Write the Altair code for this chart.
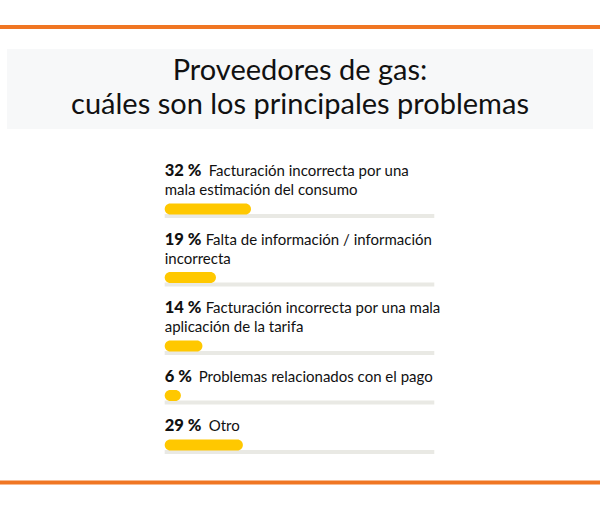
import altair as alt
import pandas as pd

# --- data -------------------------------------------------------------
pct = [32, 19, 14, 6, 29]
desc_lines = [
    ["Facturación incorrecta por una", "mala estimación del consumo"],
    ["Falta de información / información", "incorrecta"],
    ["Facturación incorrecta por una mala", "aplicación de la tarifa"],
    ["Problemas relacionados con el pago"],
    ["Otro"],
]
title_lines = ["Proveedores de gas:", "cuáles son los principales problemas"]

# --- style --------------------------------------------------------------
ORANGE = "#F07623"
YELLOW = "#FFC800"
TRACK = "#E9E9E4"
BG = "#F7F8F9"
TEXT = "#111111"
FONT = "Lato"

W, H = 600, 510
X0, X1 = 164.7, 434.3          # pixel span of the 0-100 % scale
PX_PER_PCT = (X1 - X0) / 100
FIRST_BASELINE = 176
LINE_GAP = 19
BAR_OFFSET = 14
TRACK_OFFSET = 7
ITEM_GAP = 28.5

# --- vertical layout built from the number of text lines per item -------
pct_rows, line_rows, bar_rows = [], [], []
y = FIRST_BASELINE
for p, lines in zip(pct, desc_lines):
    label = f"{p}\u00a0%"
    # rough width of the bold percent label, so the description follows it
    lab_w = 10 * len(str(p)) - 3 * str(p).count("1") + 17 + 7
    pct_rows.append({"label": label, "yb": y, "x": 0})
    for k, ln in enumerate(lines):
        shift = lab_w / PX_PER_PCT if k == 0 else 0
        line_rows.append({"text": ln, "yb": y + k * LINE_GAP, "x": shift})
    last = y + (len(lines) - 1) * LINE_GAP
    bar_c = last + BAR_OFFSET
    trk_c = bar_c + TRACK_OFFSET
    bar_rows.append({"pct": p, "zero": 0, "full": 100,
                     "b0": bar_c - 5.5, "b1": bar_c + 5.5,
                     "t0": trk_c - 2, "t1": trk_c + 2})
    y = trk_c + ITEM_GAP

pct_df = pd.DataFrame(pct_rows)
line_df = pd.DataFrame(line_rows)
bar_df = pd.DataFrame(bar_rows)
title_df = pd.DataFrame({"text": title_lines, "yb": [80, 114]})
frame_df = pd.DataFrame({"y0": [25, 480.5], "y1": [29, 484.5]})
band_df = pd.DataFrame({"y0": [49], "y1": [129]})

xscale = alt.Scale(domain=[0, 100], range=[X0, X1])
ypix = alt.Y("yb:Q", scale=None)

# decorations: orange rules and title band
frame = alt.Chart(frame_df).mark_rect(color=ORANGE).encode(
    x=alt.value(0), x2=alt.value(W),
    y=alt.Y("y0:Q", scale=None), y2="y1:Q",
)
band = alt.Chart(band_df).mark_rect(color=BG).encode(
    x=alt.value(7), x2=alt.value(593),
    y=alt.Y("y0:Q", scale=None), y2="y1:Q",
)

title = alt.Chart(title_df).mark_text(
    font=FONT, fontSize=29, color=TEXT, align="center", baseline="alphabetic"
).encode(x=alt.value(W / 2), y=ypix, text="text:N")

tracks = alt.Chart(bar_df).mark_rect(color=TRACK).encode(
    x=alt.X("zero:Q", scale=xscale, axis=None), x2="full:Q",
    y=alt.Y("t0:Q", scale=None), y2="t1:Q",
)
bars = alt.Chart(bar_df).mark_rect(color=YELLOW, cornerRadius=5.5).encode(
    x=alt.X("zero:Q", scale=xscale, axis=None), x2="pct:Q",
    y=alt.Y("b0:Q", scale=None), y2="b1:Q",
)

pct_text = alt.Chart(pct_df).mark_text(
    font=FONT, fontSize=16.5, fontWeight=900, color=TEXT,
    align="left", baseline="alphabetic"
).encode(x=alt.X("x:Q", scale=xscale, axis=None), y=ypix, text="label:N")

desc_text = alt.Chart(line_df).mark_text(
    font=FONT, fontSize=15, color=TEXT, align="left", baseline="alphabetic"
).encode(x=alt.X("x:Q", scale=xscale, axis=None), y=ypix, text="text:N")

chart = alt.layer(
    frame, band, title, tracks, bars, pct_text, desc_text
).properties(
    width=W, height=H, padding=0, autosize=alt.AutoSizeParams(type="none"),
    background="white",
).configure_view(stroke=None)

chart.save("out.html", embed_options={"renderer": "svg", "actions": False})
